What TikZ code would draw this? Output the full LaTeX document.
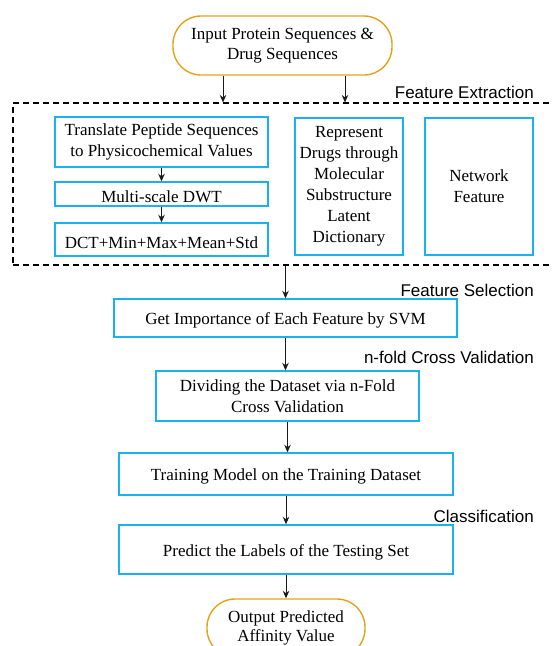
\documentclass[tikz,border=0pt]{standalone}
\usepackage{fontspec}
\setmainfont{Liberation Serif}
\newfontfamily\labelfont{Liberation Sans}
\usetikzlibrary{arrows.meta}
\definecolor{boxblue}{HTML}{1AB2EE}
\definecolor{termorange}{HTML}{E3A21A}
\newcommand{\toplift}{\rule{0pt}{17.5pt}}
\tikzset{
  procbox/.style={draw=boxblue, line width=1.4pt, rectangle, align=center, inner sep=1pt,
    font=\fontsize{17}{21}\selectfont, execute at begin node=\toplift},
  termbox/.style={draw=termorange, line width=1.4pt, rounded corners=28pt, align=center, inner sep=1pt,
    font=\fontsize{17}{20}\selectfont, execute at begin node=\toplift},
  steplabel/.style={anchor=east, inner sep=0pt, font=\labelfont\fontsize{17}{20}\selectfont},
  arr/.style={-{Stealth[length=7.5pt,width=6.5pt]}, line width=0.9pt, draw=black!90},
  regionbox/.style={draw=black, dashed, dash pattern=on 6pt off 4pt, line width=1.1pt, rectangle}
}
\begin{document}
\begin{tikzpicture}[x=1pt,y=-1pt]
\useasboundingbox (0,0) rectangle (553,646);

\node[termbox, minimum width=219pt, minimum height=59pt] (in) at (282.5,45.5)
  {Input Protein Sequences \&\\Drug Sequences};

\node[regionbox, minimum width=547pt, minimum height=162pt] (fe) at (286.5,184) {};
\node[steplabel] (lfe) at (534,92) {Feature Extraction};

\node[procbox, minimum width=213pt, minimum height=50pt] (tr) at (161.5,142)
  {Translate Peptide Sequences\\to Physicochemical Values};
\node[procbox, minimum width=213pt, minimum height=24pt] (dwt) at (161.5,194) {Multi-scale DWT};
\node[procbox, minimum width=213pt, minimum height=33pt] (dct) at (161.5,239.5) {DCT+Min+Max+Mean+Std};
\node[procbox, minimum width=108pt, minimum height=137pt] (rep) at (349,186.5)
  {Represent\\Drugs through\\Molecular\\Substructure\\Latent\\Dictionary};
\node[procbox, minimum width=108pt, minimum height=137pt] (net) at (479,186.5)
  {Network\\Feature};

\node[steplabel] (lfs) at (534,290) {Feature Selection};
\node[procbox, minimum width=343pt, minimum height=38pt] (imp) at (285.5,318)
  {Get Importance of Each Feature by SVM};

\node[steplabel] (lcv) at (534,357) {n-fold Cross Validation};
\node[procbox, minimum width=263pt, minimum height=50pt] (div) at (287.5,396)
  {Dividing the Dataset via n-Fold\\Cross Validation};

\node[procbox, minimum width=334pt, minimum height=42pt] (trn) at (286,474)
  {Training Model on the Training Dataset};

\node[steplabel] (lcl) at (534,516) {Classification};
\node[procbox, minimum width=334pt, minimum height=49pt] (prd) at (286,549.5)
  {Predict the Labels of the Testing Set};

\node[termbox, minimum width=158pt, minimum height=58pt, font=\fontsize{17}{19}\selectfont] (out) at (286,628)
  {Output Predicted\\Affinity Value};

\draw[arr] ([xshift=-59.5pt]in.south) -- ([xshift=-59.5pt]in.south |- fe.north);
\draw[arr] ([xshift=62.5pt]in.south) -- ([xshift=62.5pt]in.south |- fe.north);
\draw[arr] (tr) -- (dwt);
\draw[arr] (dwt) -- (dct);
\draw[arr] (imp.north |- fe.south) -- (imp.north);
\draw[arr] (imp.south) -- (imp.south |- div.north);
\draw[arr] (div.south) -- (div.south |- trn.north);
\draw[arr] (trn) -- (prd);
\draw[arr] (prd) -- (out);
\end{tikzpicture}
\end{document}
